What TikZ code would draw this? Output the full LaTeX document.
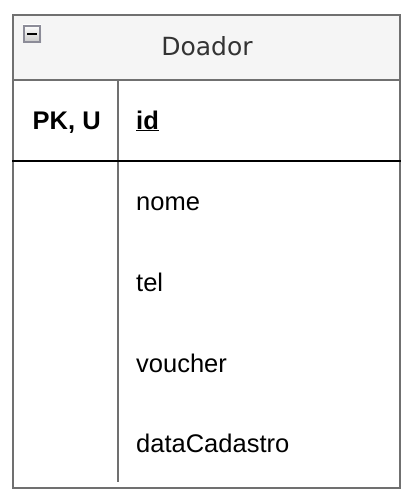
\documentclass[tikz,border=0pt]{standalone}
\usepackage{fontspec}
\setmainfont{Liberation Sans}
\newfontfamily\titlefont{DejaVu Sans}
\usepackage{tikz}
\colorlet{headingbg}{black!4}
\colorlet{framegray}{black!56}
\colorlet{iconedge}{blue!10!black!45}
\usetikzlibrary{calc, positioning}
\tikzstyle{frame} = [draw=framegray, line width=2pt]
\tikzstyle{field} = [anchor=base west, inner sep=0pt,
    font=\fontsize{25.5}{30}\selectfont]
\tikzstyle{keyfield} = [field, font=\fontsize{25.5}{30}\selectfont\bfseries]
\tikzstyle{title} = [anchor=base, inner sep=0pt, text=black!80,
    font=\titlefont\fontsize{25}{30}\selectfont]

\begin{document}
\begin{tikzpicture}[x=1pt, y=-1pt]
  \useasboundingbox (0,0) rectangle (412,500);
  % Place the frame
  \coordinate (nw) at (13,15);
  \coordinate (se) at (400,488);
  \fill [headingbg] (nw) rectangle (400,80);
  \draw [frame] (nw) rectangle (se);
  \draw [frame] (13,80) -- (400,80);
  \draw [frame] (118,80) -- (118,482);
  \draw [black, line width=2pt] (12,161) -- (401,161);
  \draw [black, line width=2.6pt] (12,161) -- (43,161);

  % Place the collapse icon
  \shade [top color=white, bottom color=black!22] (23,25) rectangle (41,43);
  \draw [iconedge, line width=1.6pt] (23.8,25.8) rectangle (40.2,42.2);
  \draw [black, line width=1.6pt] (27,34) -- (37,34);

  % Place the texts
  \node [title] (title) at (207,56) {Doador};
  \node [keyfield] (key) at (32.5,129) {PK, U};
  \node [keyfield] (id) at (136,129) {\underline{id}};
  \node [field] (nome) at (136,210.5) {nome};
  \node [field, below=80.5pt of nome.base west, anchor=base west] (tel) {tel};
  \node [field, below=81pt of tel.base west, anchor=base west] (voucher) {voucher};
  \node [field, below=80pt of voucher.base west, anchor=base west] (data) {dataCadastro};
\end{tikzpicture}
\end{document}
